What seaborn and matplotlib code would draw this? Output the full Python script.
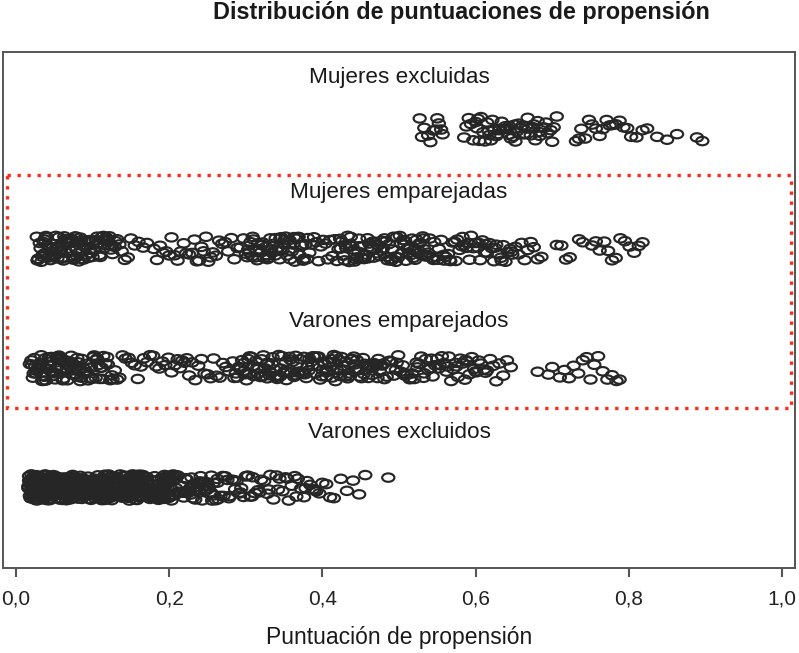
import numpy as np
import pandas as pd
import matplotlib
matplotlib.use("Agg")
import matplotlib.pyplot as plt
import seaborn as sns
from matplotlib.path import Path
from matplotlib.transforms import Affine2D
from matplotlib.patches import Rectangle

# puntuaciones de propension (en milesimas)
mujeres_excluidas = [
    527, 530, 533, 538, 541, 545, 548, 550, 552, 555, 557,
    585, 588, 591, 594, 597, 600, 602, 605, 607, 610, 612, 615, 617, 620,
    622, 624, 627, 629, 632, 634, 636, 639, 641, 644, 646, 649, 651, 654,
    656, 659, 661, 664, 666, 669, 672, 675, 678, 681, 684, 687, 690, 694,
    698, 702, 706,
    603, 618, 631, 643, 652, 663, 668, 676, 683, 692, 700,
    731, 735, 738, 743, 748, 752, 757, 762, 766, 771, 775, 779, 783, 788,
    793, 798, 803, 810, 818, 824,
    837, 850, 863, 889, 896,
]

mujeres_emparejadas = [
    27, 29, 31, 32, 34, 35, 37, 38, 40, 41, 43, 44, 46, 47, 49, 50, 52, 53,
    55, 56, 58, 59, 61, 62, 64, 65, 67, 68, 70, 71, 73, 74, 76, 77, 79, 80,
    82, 83, 85, 86, 88, 89, 91, 92, 94, 96, 98, 100, 102, 104, 106, 108,
    110, 112, 114, 116, 118, 120, 122, 124, 126, 129, 132, 135, 138,
    28, 33, 36, 39, 42, 45, 48, 51, 54, 57, 60, 63, 66, 69, 72, 75, 78, 81,
    84, 87, 90, 93, 97, 101, 105, 109, 113, 117, 121, 125, 130,
    142, 146, 150, 155, 160, 166, 171, 180, 184, 188, 192, 196, 200, 203,
    207, 211, 215, 219, 222, 226, 230, 233, 236, 239, 242, 245, 248, 251,
    254, 257, 261, 265, 269, 273, 277, 281, 285, 289, 293, 297,
    300, 302, 304, 306, 308, 310, 312, 314, 316, 318, 320, 322, 324, 326,
    328, 330, 332, 334, 336, 338, 340, 342, 344, 346, 348, 350, 352, 354,
    356, 358, 360, 362, 364, 366, 368, 370, 372, 374, 376, 378, 380, 383,
    386, 389, 392, 395, 398, 401, 404, 407, 410, 413, 416, 419,
    303, 309, 315, 321, 327, 333, 339, 345, 351, 357, 363, 369, 375, 381,
    421, 423, 425, 427, 429, 431, 433, 435, 437, 439, 441, 443, 445, 447,
    449, 451, 453, 455, 457, 459, 461, 463, 465, 467, 469, 471, 473, 475,
    477, 479, 481, 483, 485, 487, 489, 491, 493, 495, 497, 499, 501, 503,
    505, 507, 509, 511, 513, 515, 517, 519, 521, 523, 525, 527, 529, 531,
    533, 535, 537, 540, 543, 546, 549, 552, 555, 558, 561, 564, 567, 570,
    573, 576, 579, 582, 585, 588, 591, 594, 597, 600, 603, 606, 609, 612,
    615, 618, 621, 624, 627, 630, 633, 636, 639, 642, 645, 648, 652, 656,
    660, 664, 668, 672, 676, 681, 686,
    424, 430, 436, 442, 448, 454, 460, 466, 472, 478, 484, 490, 496, 502,
    508, 514, 520, 526, 532, 538, 545, 551, 559, 566, 574, 583, 592, 604,
    613, 625, 634, 647,
    706, 712, 718, 723, 735, 740, 752, 757, 762, 768, 773, 778, 783, 789,
    795, 801, 807, 813, 818,
]

varones_emparejados = [
    18, 20, 22, 23, 25, 26, 28, 29, 31, 32, 34, 35, 37, 38, 40, 41, 43, 44,
    46, 47, 49, 50, 52, 53, 55, 56, 58, 59, 61, 62, 64, 65, 67, 68, 70, 71,
    73, 74, 76, 77, 79, 80, 82, 84, 86, 88, 90, 92, 94, 96, 98, 100, 102,
    104, 106, 108, 110, 112, 114, 117, 120, 123, 126, 129, 132, 135,
    21, 24, 27, 30, 33, 36, 39, 42, 45, 48, 51, 54, 57, 60, 63, 66, 69, 72,
    75, 78, 81, 85, 89, 93, 97, 101, 105, 109, 113, 119, 125,
    139, 143, 147, 151, 155, 159, 163, 167, 171, 175, 179, 183, 187, 191,
    195, 199, 203, 207, 211, 214, 217, 220, 223, 226, 230, 234, 238, 242,
    246, 250, 254, 258, 262, 266, 270, 274, 278,
    283, 285, 287, 289, 291, 293, 295, 297, 299, 301, 303, 305, 307, 309,
    311, 313, 315, 317, 319, 321, 323, 325, 327, 329, 331, 333, 335, 337,
    339, 341, 343, 345, 347, 349, 351, 353, 355, 357, 359, 361, 363, 365,
    367, 369, 371, 373, 375, 377, 379, 381, 383, 385, 387, 389, 391, 393,
    395, 397, 399, 401, 403, 405, 407, 409, 411, 413, 415, 417, 419, 421,
    423, 425, 427, 429, 431, 433, 435, 437, 439, 441, 443, 445, 447, 449,
    451, 453, 455, 457, 459, 461, 463, 465, 467, 469, 471, 473, 475, 478,
    481, 484, 487, 490, 493, 496, 499, 502, 505, 508, 511, 514, 517, 520,
    523, 526, 529, 532, 535, 538, 541, 544, 547, 550, 553, 556, 559, 562,
    565, 568, 571, 574, 577, 580, 583, 586, 589, 592, 595, 598, 601, 604,
    607, 611, 615, 619, 623, 627, 631, 636, 641, 646,
    292, 298, 304, 310, 316, 322, 328, 334, 340, 346, 352, 358, 364, 370,
    376, 382, 388, 394, 400, 406, 412, 418, 424, 430, 436, 442, 448, 454,
    460, 466, 472, 480, 488, 497, 506, 515, 524, 533, 542, 552, 563, 575,
    587, 600, 613,
    681, 695, 700, 710, 716, 722, 728, 734, 740, 745, 750, 755, 760, 766,
    772, 778, 784, 788,
]

varones_excluidos = [
    16, 17, 17, 18, 19, 19, 20, 21, 21, 22, 23, 23, 24, 25, 25, 26, 27, 27,
    28, 29, 29, 30, 31, 31, 32, 33, 33, 34, 35, 35, 36, 37, 37, 38, 39, 39,
    40, 41, 41, 42, 43, 43, 44, 45, 45, 46, 47, 47, 48, 49, 49, 50, 51, 51,
    52, 53, 53, 54, 55, 55, 56, 57, 57, 58, 59, 59, 60, 61, 61, 62, 63, 63,
    64, 65, 65, 66, 67, 67, 68, 69, 69, 70, 71, 71, 72, 73, 73, 74, 75, 75,
    76, 77, 77, 78, 79, 79, 80, 81, 81, 82, 83, 83, 84, 85, 85, 86, 87, 87,
    88, 89, 89, 90, 91, 91, 92, 93, 93, 94, 95, 95, 96, 97, 97, 98, 99, 99,
    100, 101, 101, 102, 103, 103, 104, 105, 105, 106, 107, 107, 108, 109,
    109, 110, 111, 111, 112, 113, 113, 114, 115, 115, 116, 117, 117, 118,
    119, 119, 120, 121, 122, 123, 124, 125, 126, 127, 128, 129, 130, 131,
    132, 133, 134, 135, 136, 137, 138, 139, 140, 141, 142, 143, 144, 145,
    146, 147, 148, 149, 150, 151, 152, 153, 154, 155, 156, 157, 158, 159,
    160, 161, 162, 163, 164, 165,
    16, 18, 18, 20, 20, 22, 22, 24, 24, 26, 26, 28, 28, 30, 30, 32, 32, 34,
    34, 36, 36, 38, 38, 40, 40, 42, 42, 44, 44, 46, 46, 48, 48, 50, 50, 52,
    52, 54, 54, 56, 56, 58, 58, 60, 60, 62, 62, 64, 64, 66, 66, 68, 68, 70,
    70, 72, 72, 74, 74, 76, 76, 78, 78, 80, 80, 82, 82, 84, 84, 86, 86, 88,
    88, 90, 90, 92, 92, 94, 94, 96, 96, 98, 98, 100, 100, 102, 102, 104,
    104, 106, 106, 108, 108, 110, 110, 112, 112, 114, 114, 116, 116, 118,
    118, 120, 121, 122, 123, 124, 125, 126, 127, 128, 129, 130, 131, 132,
    133, 134, 135, 136, 137, 138, 139, 140, 141, 142, 143, 144, 145, 146,
    147, 148, 149, 150, 151, 152, 153, 154, 155, 156, 157, 158, 159, 160,
    162, 164, 166, 168, 170, 172, 174, 176, 178, 180, 182, 184, 186, 188,
    190, 192, 194, 196, 198, 200,
    151, 153, 155, 157, 159, 161, 163, 165, 167, 169, 171, 173, 175, 177,
    179, 181, 183, 185, 187, 189, 191, 193, 195, 197, 199, 201, 203, 205,
    207, 209, 211, 213, 216, 219, 222, 225, 228, 231, 234, 237, 240, 243,
    247, 251, 255, 259, 263,
    166, 168, 169, 171, 172, 174, 175, 177, 178, 180, 181, 183, 184, 186,
    187, 189, 190, 192, 193, 195, 196, 198, 199, 201, 202, 204, 205, 207,
    209, 211, 213, 215, 217, 219, 221, 223, 225, 227, 229, 231, 233, 235,
    237, 239, 241, 243,
    246, 249, 252, 255, 258, 261, 264, 267, 270, 273, 276, 279, 282, 285,
    288, 291, 294, 297, 300, 303, 306, 309, 312, 316, 320, 324, 328, 332,
    336, 340, 344, 348, 352, 356, 360, 364, 368, 372, 376, 380, 384, 388,
    392, 396, 400, 405, 410, 415,
    248, 256, 263, 271, 278, 286, 293, 301, 308, 318, 330, 342, 354, 366,
    378, 390,
    424, 432, 440, 448, 456, 486,
]

grupos = ["Mujeres excluidas", "Mujeres emparejadas",
          "Varones emparejados", "Varones excluidos"]
valores = [mujeres_excluidas, mujeres_emparejadas,
           varones_emparejados, varones_excluidos]
desplaz_etiqueta = [-0.44, -0.47, -0.39, -0.46]

df = pd.DataFrame({
    "grupo": np.repeat(grupos, [len(v) for v in valores]),
    "puntuacion": np.concatenate(valores) / 1000.0,
})

sns.set_style("white")
plt.rcParams["font.family"] = ["Liberation Sans", "DejaVu Sans"]

fig = plt.figure(figsize=(7.99, 6.53), dpi=100)
ax = fig.add_axes([3 / 799, 85 / 653, 792 / 799, 516 / 653])

# circulo achatado como en la figura original
elipse = Path.unit_circle().transformed(Affine2D().scale(1.45, 1.0))

np.random.seed(7)
sns.stripplot(data=df, x="puntuacion", y="grupo", order=grupos,
              jitter=0.11, size=8.8, marker=elipse, color="white",
              edgecolor="#262626", linewidth=1.55, ax=ax)
for coll in ax.collections:
    coll.set_facecolor("none")

ax.set_xlim(-0.017, 1.017)
ax.set_ylim(3.675, -0.65)
ax.set_yticks([])
ax.set_ylabel("")
ax.set_xlabel("")
ax.set_xticks([0, 0.2, 0.4, 0.6, 0.8, 1.0])
ax.set_xticklabels(["0,0", "0,2", "0,4", "0,6", "0,8", "1,0"])
ax.tick_params(axis="x", bottom=True, direction="out", length=6.5, width=1.5,
               color="#555555", pad=9, labelsize=15, labelcolor="#222222")
for s in ax.spines.values():
    s.set_visible(True)
    s.set_color("#555555")
    s.set_linewidth(1.4)

for i, g in enumerate(grupos):
    ax.text(0.5, i + desplaz_etiqueta[i], g, ha="center", va="center",
            fontsize=16.2, color="#1a1a1a")

ax.add_patch(Rectangle((-0.0124, 0.377), 1.0248, 1.957, fill=False,
                       edgecolor="#ff2a1a", linewidth=2.4,
                       linestyle=(0, (1, 2)), zorder=4))

fig.text(0.577, 0.981, "Distribución de puntuaciones de propensión",
         ha="center", va="center", fontsize=16.8, fontweight="bold",
         color="#1a1a1a")
fig.text(0.5, 0.0245, "Puntuación de propensión", ha="center", va="center",
         fontsize=16.5, color="#1a1a1a")

fig.savefig("out.png", dpi=100)
